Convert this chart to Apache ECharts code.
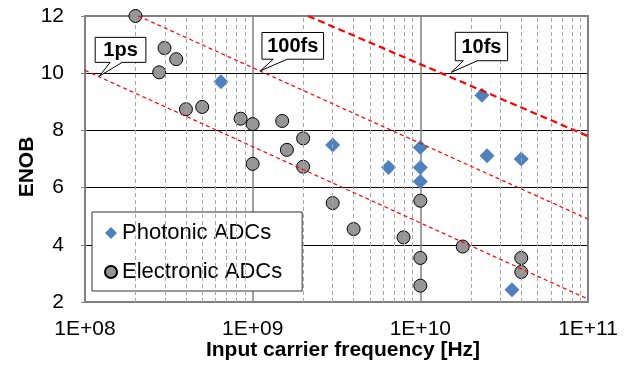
<!DOCTYPE html>
<html>
<head>
<meta charset="utf-8">
<script src="https://cdn.jsdelivr.net/npm/echarts@6/dist/echarts.min.js"></script>
<style>
  html, body { margin: 0; padding: 0; background: #fff; }
  #main { width: 638px; height: 370px; }
</style>
</head>
<body>
<div id="main"></div>
<script>
// data
var photonicFreq = [6.47e8, 3.0e9, 6.46e9, 1e10, 1e10, 1e10, 2.33e10, 2.5e10, 4.0e10, 3.52e10];
var photonicEnob = [9.7, 7.49, 6.7, 7.4, 6.7, 6.21, 9.23, 7.11, 7.0, 2.43];

var electronicFreq = [2.0e8, 2.98e8, 3.5e8, 2.77e8, 4.0e8, 5.0e8, 8.47e8, 1e9, 1e9, 1.5e9, 2.0e9,
  1.6e9, 2.0e9, 3.0e9, 4.0e9, 7.94e9, 1e10, 1e10, 1e10, 1.79e10, 4.0e10, 4.0e10];
var electronicEnob = [12, 10.88, 10.49, 10.03, 8.74, 8.82, 8.41, 8.22, 6.83, 8.33, 7.72,
  7.32, 6.73, 5.46, 4.55, 4.26, 5.54, 3.54, 2.57, 3.94, 3.54, 3.05];

// jitter limit lines (end points)
var jitterNames = ["1ps", "100fs", "10fs"];
var jitterFreq = [[1e8, 1e11], [2.08e8, 1e11], [2.14e9, 1e11]];
var jitterEnob = [[10.1, 2.1], [12, 4.9], [12, 7.8]];
// where each callout points to
var tipFreq = [1.22e8, 1.11e9, 1.53e10];
var tipEnob = [9.9, 10.08, 10.03];

var xTickLabels = ["1E+08", "1E+09", "1E+10", "1E+11"];
var yMin = 2, yMax = 12, yStep = 2;
var minorSteps = [2, 3, 4, 5, 6, 7, 8, 9];
var decades = [1e8, 1e9, 1e10];

function zip(xs, ys) {
  return xs.map(function (x, i) { return [x, ys[i]]; });
}

var minorLines = [];
decades.forEach(function (d) {
  minorSteps.forEach(function (m) { minorLines.push({ xAxis: d * m }); });
});

var FONT = "Arial, 'Liberation Sans', sans-serif";

var myChart = echarts.init(document.getElementById("main"));

var jitterSeries = jitterNames.map(function (name, i) {
  var thick = i === 2;
  return {
    name: name,
    type: "line",
    data: zip(jitterFreq[i], jitterEnob[i]),
    showSymbol: false,
    silent: true,
    z: 5,
    lineStyle: {
      color: "#ff0000",
      width: thick ? 2.2 : 1.2,
      type: thick ? [7, 4] : [4, 3]
    }
  };
});

var option = {
  animation: false,
  grid: {
    left: 85, right: 50, top: 16, bottom: 68,
    show: true, borderColor: "#808080", borderWidth: 2,
    outerBoundsMode: "none"
  },
  legend: {
    data: ["Photonic ADCs", "Electronic ADCs"],
    orient: "vertical",
    left: 92, top: 212,
    padding: [10, 20, 8, 12],
    itemGap: 17,
    itemWidth: 12, itemHeight: 12,
    backgroundColor: "#fff",
    borderColor: "#333",
    borderWidth: 1,
    textStyle: { fontFamily: FONT, fontSize: 22, color: "#000" }
  },
  xAxis: {
    type: "log",
    logBase: 10,
    min: 1e8, max: 1e11,
    axisLine: { lineStyle: { color: "#808080", width: 2 } },
    axisTick: { show: false },
    axisLabel: {
      margin: 17,
      fontFamily: FONT, fontSize: 21, color: "#000",
      formatter: function (v) { return xTickLabels[Math.round(Math.log10(v)) - 8]; }
    },
    splitLine: { show: true, lineStyle: { color: "#808080", width: 1.5 } }
  },
  yAxis: {
    type: "value",
    min: yMin, max: yMax, interval: yStep,
    axisLine: { show: true, lineStyle: { color: "#808080", width: 2 } },
    axisTick: { show: true, length: 4, lineStyle: { color: "#808080" } },
    axisLabel: { margin: 21, fontFamily: FONT, fontSize: 21, color: "#000" },
    splitLine: {
      show: true,
      lineStyle: { color: ["#808080", "#000", "#000", "#000", "#000", "#808080"], width: 1 }
    }
  },
  series: [
    {
      name: "minor",
      type: "line",
      data: [],
      silent: true,
      z: 1,
      markLine: {
        silent: true,
        symbol: "none",
        label: { show: false },
        animation: false,
        lineStyle: { color: "#a6a6a6", width: 1, type: [4, 3] },
        data: minorLines
      }
    },
    {
      name: "Photonic ADCs",
      type: "scatter",
      symbol: "diamond",
      symbolSize: 15,
      z: 3,
      itemStyle: { color: "#4f81bd", opacity: 1 },
      data: zip(photonicFreq, photonicEnob)
    },
    {
      name: "Electronic ADCs",
      type: "scatter",
      symbol: "circle",
      symbolSize: 13,
      z: 3,
      itemStyle: { color: "#969696", borderColor: "#000", borderWidth: 1, opacity: 1 },
      data: zip(electronicFreq, electronicEnob)
    }
  ].concat(jitterSeries)
};

myChart.setOption(option);

// callout boxes, placed relative to the point they point at
var calloutBox = [
  { dx: -4.3, dy: -38.7, w: 50.7, h: 25, b0: 10.7, b1: 22.7 },
  { dx: 1.7, dy: -38.4, w: 61.6, h: 26.7, b0: 13, b1: 27 },
  { dx: 4, dy: -40, w: 52.3, h: 28.4, b0: 12, b1: 26 }
];

var graphics = [];
jitterNames.forEach(function (name, i) {
  var tip = myChart.convertToPixel({ gridIndex: 0 }, [tipFreq[i], tipEnob[i]]);
  var b = calloutBox[i];
  var x0 = tip[0] + b.dx, y0 = tip[1] + b.dy, x1 = x0 + b.w, y1 = y0 + b.h;
  graphics.push({
    type: "polygon",
    z: 100,
    shape: {
      points: [[x0, y0], [x1, y0], [x1, y1], [tip[0] + b.b1, y1], tip,
        [tip[0] + b.b0, y1], [x0, y1]]
    },
    style: { fill: "#fff", stroke: "#000", lineWidth: 1 }
  });
  graphics.push({
    type: "text",
    z: 101,
    x: (x0 + x1) / 2,
    y: (y0 + y1) / 2 + 1,
    style: {
      text: name, font: "bold 20px " + FONT, fill: "#000",
      align: "center", verticalAlign: "middle",
      textAlign: "center", textVerticalAlign: "middle"
    }
  });
});

// axis titles
graphics.push({
  type: "text", x: 27, y: 167, rotation: Math.PI / 2,
  style: {
    text: "ENOB", font: "bold 21px " + FONT, fill: "#000",
    align: "center", verticalAlign: "middle",
    textAlign: "center", textVerticalAlign: "middle"
  }
});
graphics.push({
  type: "text", x: 343, y: 350,
  style: {
    text: "Input carrier frequency [Hz]", font: "bold 21px " + FONT, fill: "#000",
    align: "center", verticalAlign: "middle",
    textAlign: "center", textVerticalAlign: "middle"
  }
});

myChart.setOption({ graphic: graphics });
</script>
</body>
</html>
